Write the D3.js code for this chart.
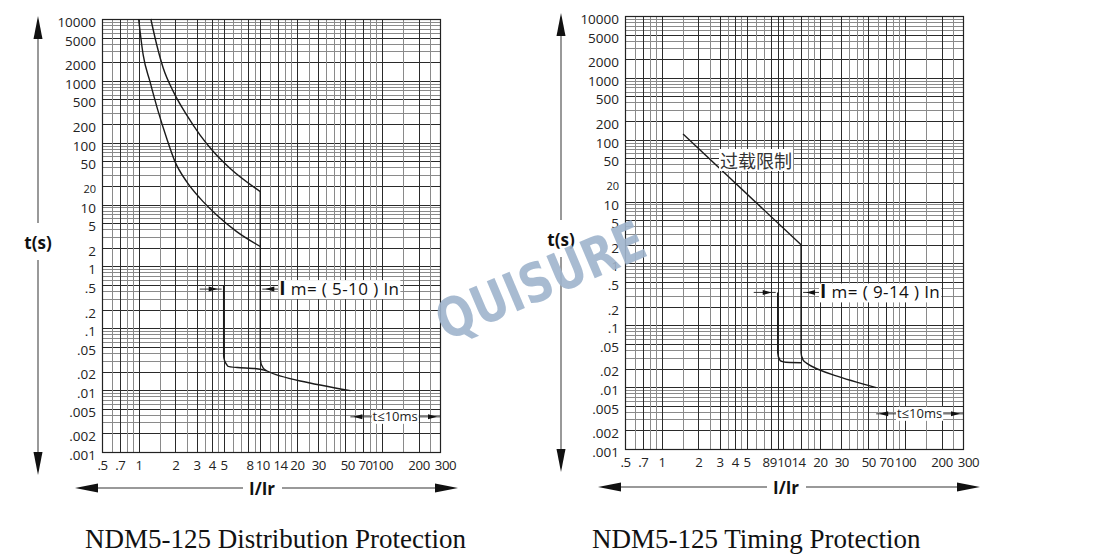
<!DOCTYPE html>
<html>
<head>
<meta charset="utf-8">
<script src="https://cdn.jsdelivr.net/npm/d3@7/dist/d3.min.js"></script>
<style>
  html, body { margin: 0; padding: 0; background: #fff; }
  svg { display: block; }
</style>
</head>
<body>
<svg id="chart" width="1095" height="560"></svg>
<script>
// ---------------- DATA ----------------
const yTickValues = [10000, 5000, 2000, 1000, 500, 200, 100, 50, 20, 10, 5, 2, 1, 0.5, 0.2, 0.1, 0.05, 0.02, 0.01, 0.005, 0.002, 0.001];
const yTickLabels = ["10000", "5000", "2000", "1000", "500", "200", "100", "50", "20", "10", "5", "2", "1", ".5", ".2", ".1", ".05", ".02", ".01", ".005", ".002", ".001"];

const xTickValuesDist = [0.5, 0.7, 1, 2, 3, 4, 5, 8, 10, 14, 20, 30, 50, 70, 100, 200, 300];
const xTickLabelsDist = [".5", ".7", "1", "2", "3", "4", "5", "8", "10", "14", "20", "30", "50", "70", "100", "200", "300"];
const xTickValuesTime = [0.5, 0.7, 1, 2, 3, 4, 5, 8, 9, 10, 14, 20, 30, 50, 70, 100, 200, 300];
const xTickLabelsTime = [".5", ".7", "1", "2", "3", "4", "5", "8", "9", "10", "14", "20", "30", "50", "70", "100", "200", "300"];

const xGridValues = [0.5, 0.6, 0.7, 0.8, 0.9, 1, 1.5, 2, 2.5, 3, 3.5, 4, 4.5, 5, 6, 7, 8, 9, 10, 12, 14, 16, 18, 20, 25, 30, 35, 40, 45, 50, 60, 70, 80, 90, 100, 150, 200, 250, 300];

// Distribution protection (left chart)
const distUpperI = [1.26, 1.41, 1.595, 1.93, 2.48, 3.19, 4.11, 5.63, 10];
const distUpperT = [10000, 3800, 1600, 670, 281, 134, 72, 38.7, 16.2];
const distLowerI = [1.0, 1.09, 1.24, 1.45, 1.70, 1.99, 2.48, 3.19, 4.38, 6.40, 10];
const distLowerT = [10000, 2620, 971, 318, 118, 49.5, 23.5, 12.7, 6.8, 3.66, 2.1];
const distImLowI = [5, 5, 5.4, 6.5, 9, 11.2];
const distImLowT = [0.5, 0.036, 0.0245, 0.0232, 0.0224, 0.0205];
const distImHighI = [10, 10, 10.6, 11.5, 55];
const distImHighT = [16.2, 0.032, 0.0225, 0.0202, 0.0098];

// Timing protection (right chart)
const timeOverloadI = [1.5, 14];
const timeOverloadT = [124, 2.0];
const timeImLowI = [9, 9, 9.4, 10.5, 14];
const timeImLowT = [0.34, 0.036, 0.027, 0.0252, 0.0248];
const timeImHighI = [14, 14, 14.6, 15.5, 58];
const timeImHighT = [2.0, 0.036, 0.027, 0.0245, 0.0098];

const zip = (I, T) => I.map((v, i) => ({ I: v, t: T[i] }));

// ---------------- DRAW ----------------
const svg = d3.select("#chart");
const labelFont = "'Open Sans', 'DejaVu Sans', sans-serif";

function arrowHead(g, tipX, tipY, dir, len, half) {
  let pts;
  if (dir === "up") pts = [[tipX, tipY], [tipX - half, tipY + len], [tipX + half, tipY + len]];
  if (dir === "down") pts = [[tipX, tipY], [tipX - half, tipY - len], [tipX + half, tipY - len]];
  if (dir === "left") pts = [[tipX, tipY], [tipX + len, tipY - half], [tipX + len, tipY + half]];
  if (dir === "right") pts = [[tipX, tipY], [tipX - len, tipY - half], [tipX - len, tipY + half]];
  g.append("path").attr("d", "M" + pts.map(p => p.join(",")).join("L") + "Z").attr("fill", "#111");
}

function drawChart(o) {
  const g = svg.append("g");
  const x = d3.scaleLog().domain([0.5, 300]).range([o.x0, o.x1]);
  const y = d3.scaleLog().domain([0.001, 10000]).range([o.y1, o.y0]);

  const majorX = new Set(o.xTicks);
  const majorY = new Set(yTickValues.map(v => +v.toPrecision(6)));

  // horizontal grid
  g.append("g").selectAll("line").data(y.ticks()).join("line")
    .attr("x1", o.x0).attr("x2", o.x1)
    .attr("y1", d => Math.round(y(d)) + 0.5).attr("y2", d => Math.round(y(d)) + 0.5)
    .attr("stroke", d => majorY.has(+d.toPrecision(6)) ? "#2a2a2a" : "#8a8a8a")
    .attr("stroke-width", 1);

  // vertical grid
  g.append("g").selectAll("line").data(xGridValues).join("line")
    .attr("y1", o.y0).attr("y2", o.y1)
    .attr("x1", d => Math.round(x(d)) + 0.5).attr("x2", d => Math.round(x(d)) + 0.5)
    .attr("stroke", d => majorX.has(d) ? "#2a2a2a" : "#8a8a8a")
    .attr("stroke-width", 1);

  // border
  g.append("rect").attr("x", o.x0 + 0.5).attr("y", o.y0 + 0.5)
    .attr("width", o.x1 - o.x0).attr("height", o.y1 - o.y0)
    .attr("fill", "none").attr("stroke", "#222").attr("stroke-width", 1.2);

  // y axis labels
  const yAxis = d3.axisLeft(y).tickValues(yTickValues)
    .tickFormat((d, i) => yTickLabels[i]).tickSize(0).tickPadding(6);
  const ya = g.append("g").attr("transform", `translate(${o.x0},0)`).call(yAxis);
  ya.select(".domain").remove();
  ya.selectAll("text")
    .attr("font-family", labelFont)
    .attr("font-size", d => d === 20 ? 11 : 13.5)
    .attr("fill", "#222")
    .attr("dy", "0.55em");

  // x axis labels
  const xAxis = d3.axisBottom(x).tickValues(o.xTicks)
    .tickFormat((d, i) => o.xTickLabels[i]).tickSize(0).tickPadding(9);
  const xa = g.append("g").attr("transform", `translate(0,${o.y1})`).call(xAxis);
  xa.select(".domain").remove();
  xa.selectAll("text")
    .attr("font-family", labelFont)
    .attr("font-size", 13.2)
    .attr("fill", "#222")
    .attr("letter-spacing", -0.4)
    .attr("dx", d => (o.xNudge && o.xNudge[d]) || 0);

  // curves
  const lineM = d3.line().x(d => x(d.I)).y(d => y(d.t)).curve(d3.curveMonotoneX);
  const lineY = d3.line().x(d => x(d.I)).y(d => y(d.t)).curve(d3.curveMonotoneY);
  const lineL = d3.line().x(d => x(d.I)).y(d => y(d.t));
  o.curves.forEach(c => {
    const gen = c.kind === "mx" ? lineM : c.kind === "my" ? lineY : lineL;
    g.append("path").attr("d", gen(c.data)).attr("fill", "none")
      .attr("stroke", "#1a1a1a").attr("stroke-width", 1.4);
  });

  // Im arrows
  const ay = y(o.arrowT);
  g.append("line").attr("x1", x(o.imLow) - 24).attr("x2", x(o.imLow) - 2).attr("y1", ay).attr("y2", ay).attr("stroke", "#333").attr("stroke-width", 1);
  arrowHead(g, x(o.imLow) - 6, ay, "right", 9, 2.5);
  g.append("line").attr("x1", x(o.imHigh) + 2).attr("x2", x(o.imHigh) + 18).attr("y1", ay).attr("y2", ay).attr("stroke", "#333").attr("stroke-width", 1);
  arrowHead(g, x(o.imHigh) + 5, ay, "left", 9, 2.5);

  // Im label
  const lbl = g.append("text").attr("x", x(o.imHigh) + 19).attr("y", ay + 6)
    .attr("font-family", labelFont).attr("font-size", 17).attr("fill", "#111")
    .attr("letter-spacing", 0.4);
  lbl.append("tspan").attr("font-weight", "bold").attr("font-size", 19).text("I");
  lbl.append("tspan").text(" m= ( " + o.imText + " ) In");
  const bb = lbl.node().getBBox();
  g.insert("rect", function () { return lbl.node(); })
    .attr("x", bb.x - 1).attr("y", ay - 9).attr("width", bb.width + 2).attr("height", 19)
    .attr("fill", "#fff");

  // t<=10ms
  const ty = y(o.tmsT);
  const tx0 = x(o.tmsFrom), tx1 = o.x1;
  g.append("line").attr("x1", tx0).attr("x2", tx1).attr("y1", ty).attr("y2", ty).attr("stroke", "#333");
  arrowHead(g, tx0 + 3, ty, "left", 9, 2.5);
  arrowHead(g, tx1 - 3, ty, "right", 9, 2.5);
  const tt = g.append("text").attr("x", (tx0 + tx1) / 2).attr("y", ty + 4.5)
    .attr("text-anchor", "middle").attr("font-family", labelFont).attr("font-size", 13)
    .attr("fill", "#222").text("t≤10ms");
  const tb = tt.node().getBBox();
  g.insert("rect", function () { return tt.node(); })
    .attr("x", tb.x - 1).attr("y", ty - 7).attr("width", tb.width + 2).attr("height", 14).attr("fill", "#fff");

  // extra label
  if (o.extraLabel) {
    const el = g.append("text").attr("x", o.extraLabel.x).attr("y", o.extraLabel.y)
      .attr("font-family", "'Noto Sans CJK SC', sans-serif").attr("font-size", 18)
      .attr("fill", "#333").text(o.extraLabel.text);
    const eb = el.node().getBBox();
    g.insert("rect", function () { return el.node(); })
      .attr("x", eb.x - 1).attr("y", eb.y + 2).attr("width", eb.width + 2).attr("height", eb.height - 4).attr("fill", "#fff");
  }

  // axis arrows
  const ax = o.axisX;
  g.append("line").attr("x1", ax).attr("x2", ax).attr("y1", o.vTop + 20).attr("y2", o.vTitleY - 20).attr("stroke", "#777").attr("stroke-width", 1.5);
  g.append("line").attr("x1", ax).attr("x2", ax).attr("y1", o.vTitleY + 17).attr("y2", o.vBot - 20).attr("stroke", "#777").attr("stroke-width", 1.5);
  arrowHead(g, ax, o.vTop, "up", 23, 4.5);
  arrowHead(g, ax, o.vBot, "down", 23, 4.5);
  g.append("text").attr("x", ax).attr("y", o.vTitleY + 6).attr("text-anchor", "middle")
    .attr("font-family", labelFont).attr("font-weight", "bold").attr("font-size", 17).attr("fill", "#111").text("t(s)");

  const hy = o.axisY;
  g.append("line").attr("x1", o.hLeft + 20).attr("x2", o.hTitleX - 19).attr("y1", hy).attr("y2", hy).attr("stroke", "#777").attr("stroke-width", 1.5);
  g.append("line").attr("x1", o.hTitleX + 20).attr("x2", o.hRight - 20).attr("y1", hy).attr("y2", hy).attr("stroke", "#777").attr("stroke-width", 1.5);
  arrowHead(g, o.hLeft, hy, "left", 23, 4.5);
  arrowHead(g, o.hRight, hy, "right", 23, 4.5);
  g.append("text").attr("x", o.hTitleX).attr("y", hy + 7).attr("text-anchor", "middle")
    .attr("font-family", labelFont).attr("font-weight", "bold").attr("font-size", 17).attr("fill", "#111").text("I/Ir");

  // caption
  svg.append("text").attr("x", o.capX).attr("y", 548)
    .attr("font-family", "'Liberation Serif', 'Times New Roman', serif").attr("font-size", 27)
    .attr("fill", "#111").text(o.caption);
}

drawChart({
  x0: 102, x1: 440, y0: 19, y1: 452,
  xTicks: xTickValuesDist, xTickLabels: xTickLabelsDist,
  xNudge: { 8: 1, 10: 2, 14: 2, 50: 2, 70: 2, 300: 5 },
  curves: [
    { kind: "mx", data: zip(distUpperI, distUpperT) },
    { kind: "mx", data: zip(distLowerI, distLowerT) },
    { kind: "my", data: zip(distImLowI, distImLowT) },
    { kind: "my", data: zip(distImHighI, distImHighT) }
  ],
  arrowT: 0.43, imLow: 5, imHigh: 10, imText: "5-10",
  tmsT: 0.0037, tmsFrom: 55,
  axisX: 38, vTop: 16, vBot: 475, vTitleY: 243,
  axisY: 488, hLeft: 75, hRight: 458, hTitleX: 262,
  capX: 85, caption: "NDM5-125 Distribution Protection"
});

drawChart({
  x0: 625, x1: 963, y0: 16, y1: 449,
  xTicks: xTickValuesTime, xTickLabels: xTickLabelsTime,
  xNudge: { 8: -6, 9: -5, 10: 0.5, 14: -3, 300: 5 },
  curves: [
    { kind: "lin", data: zip(timeOverloadI, timeOverloadT) },
    { kind: "my", data: zip(timeImLowI, timeImLowT) },
    { kind: "my", data: zip(timeImHighI, timeImHighT) }
  ],
  arrowT: 0.34, imLow: 9, imHigh: 14, imText: "9-14",
  tmsT: 0.0037, tmsFrom: 58,
  extraLabel: { x: 720, y: 168, text: "过载限制" },
  axisX: 561, vTop: 13, vBot: 472, vTitleY: 240,
  axisY: 487, hLeft: 598, hRight: 980, hTitleX: 786,
  capX: 592, caption: "NDM5-125 Timing Protection"
});

// watermark
svg.append("text")
  .attr("transform", "translate(548,298) rotate(-23)")
  .attr("text-anchor", "middle")
  .attr("font-family", "'DejaVu Sans', sans-serif").attr("font-weight", "bold")
  .attr("font-size", 54).attr("textLength", 222).attr("lengthAdjust", "spacingAndGlyphs")
  .attr("fill", "#9fb4cc").attr("fill-opacity", 0.9)
  .text("QUISURE");
</script>
</body>
</html>
